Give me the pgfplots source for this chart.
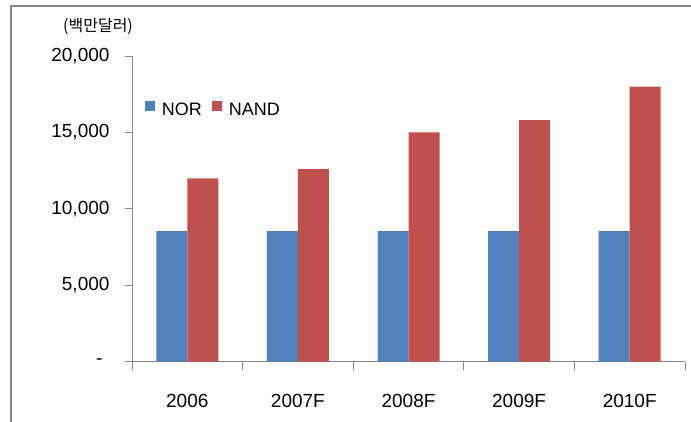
\documentclass[border=0pt]{standalone}
\usepackage{fontspec}
\setmainfont{Liberation Sans}
\newfontfamily\kr{Noto Sans CJK KR}
\usepackage{pgfplots}
\pgfplotsset{compat=1.18}
\definecolor{norblue}{HTML}{4F81BD}
\definecolor{nandred}{HTML}{C0504D}
\definecolor{framegray}{HTML}{868686}

\begin{document}
\begin{tikzpicture}
\clip (0,0) rectangle (691pt,422pt);
% outer chart frame (only the top and left edges fall on the page)
\draw[framegray, line width=2pt] (11pt,-20pt) -- (11pt,416pt) -- (720pt,416pt);
% unit label
\node[anchor=west, inner sep=0pt] at (63pt,396pt) {\kr\fontsize{16}{19}\selectfont (백만달러)};
\begin{axis}[
  at={(132pt,60.3pt)}, anchor=south west,
  scale only axis, width=553pt, height=305.7pt,
  xmin=-0.5, xmax=4.5, ymin=0, ymax=20000,
  scaled y ticks=false,
  axis x line*=bottom, axis y line*=left,
  axis line style={draw=framegray, line width=0.8pt},
  tick style={draw=framegray, line width=0.8pt},
  tick align=outside, major tick length=7pt, minor tick length=8pt,
  ytick={0,5000,10000,15000,20000},
  yticklabels={{-\rule{0pt}{1pt}\kern 7pt},{5,000},{10,000},{15,000},{20,000}},
  xtick={0,1,2,3,4},
  xticklabels={2006,2007F,2008F,2009F,2010F},
  major x tick style={draw=none},
  minor xtick={-0.5,0.5,1.5,2.5,3.5,4.5},
  ticklabel style={font=\fontsize{19}{22}\selectfont},
  yticklabel style={xshift=-12pt},
  xticklabel style={yshift=-22pt},
  ybar=0pt, bar width=31pt,
  legend columns=2,
  legend style={draw=none, fill=none, inner sep=0pt, outer sep=0pt,
    at={(rel axis cs:0.0235,0.853)}, anchor=north west,
    font=\fontsize{18}{21}\selectfont,
    nodes={inner sep=0pt},
    /tikz/every odd column/.append style={column sep=7pt},
    /tikz/every even column/.append style={column sep=10pt}},
  legend image code/.code={\fill[#1] (0pt,-1pt) rectangle (10pt,9pt);},
]
\addplot[fill=norblue, draw=none] coordinates {(0,8550) (1,8550) (2,8550) (3,8550) (4,8550)};
\addlegendentry{NOR}
\addplot[fill=nandred, draw=none] coordinates {(0,12000) (1,12600) (2,15000) (3,15800) (4,18000)};
\addlegendentry{NAND}
\end{axis}
\end{tikzpicture}
\end{document}
